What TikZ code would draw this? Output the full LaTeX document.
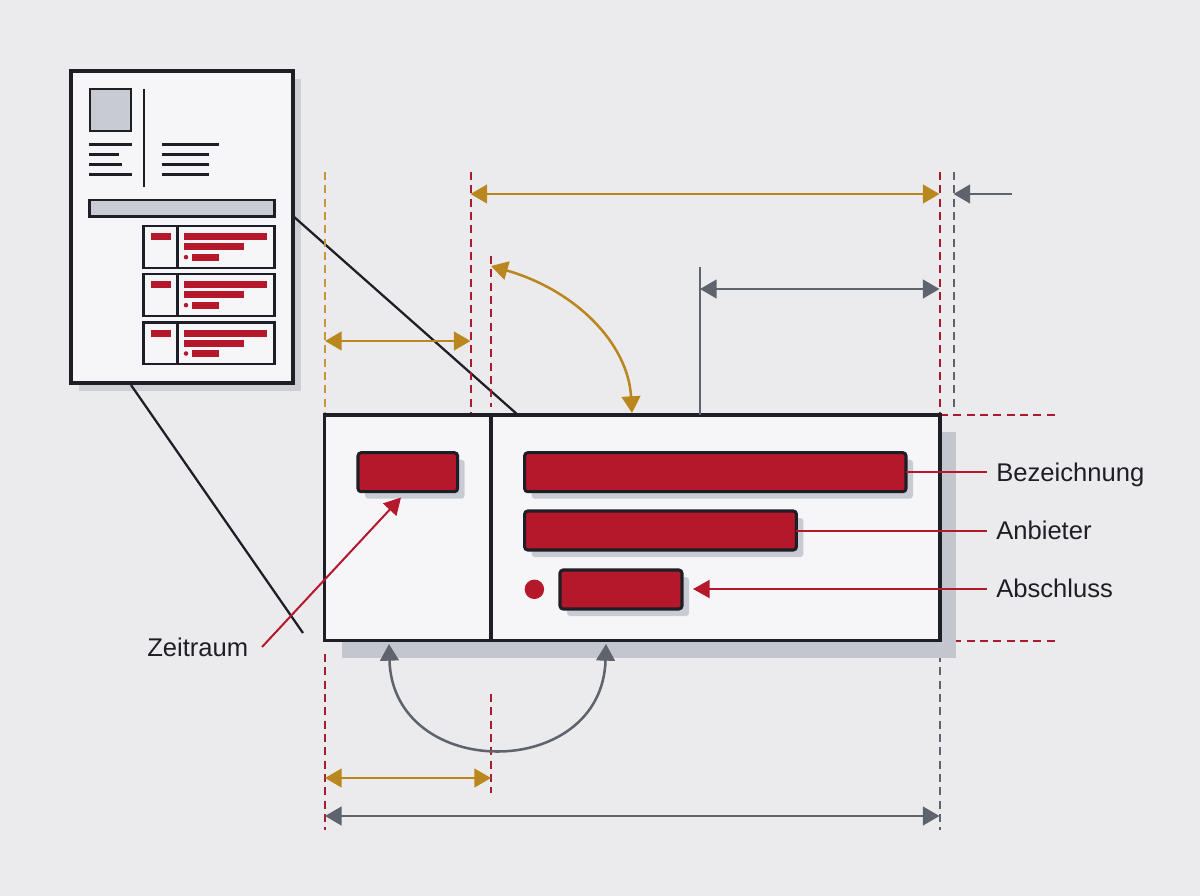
\documentclass[tikz,border=0pt]{standalone}
\usepackage{fontspec}
\setmainfont{Liberation Sans}
\usetikzlibrary{arrows.meta}
\definecolor{bg}{HTML}{EBEBED}
\definecolor{ink}{HTML}{1E1F26}
\definecolor{paper}{HTML}{F6F6F8}
\definecolor{shad}{HTML}{C4C6CD}
\definecolor{crim}{HTML}{B5172B}
\definecolor{gold}{HTML}{BA861E}
\definecolor{gry}{HTML}{5F636D}
\definecolor{reddash}{HTML}{A81C30}
\definecolor{golddash}{HTML}{C9963A}
\definecolor{greybox}{HTML}{C9CBD2}
\tikzset{
  frame/.style={draw=ink, line width=2.5pt},
  thinframe/.style={draw=ink, line width=1.9pt},
  bar/.style={fill=crim, draw=ink, line width=2.3pt, rounded corners=2.4pt},
  barshadow/.style={fill=greybox, rounded corners=2.4pt},
  minibar/.style={fill=crim},
  docline/.style={draw=ink, line width=2pt},
  rdash/.style={draw=reddash, line width=1.5pt, dash pattern=on 6pt off 4pt},
  gdash/.style={draw=golddash, line width=1.5pt, dash pattern=on 6pt off 4pt},
  ydash/.style={draw=gry, line width=1.5pt, dash pattern=on 6pt off 4pt},
  tipG/.tip={Triangle[length=12.5pt,width=14pt]},
  goldarr/.style={draw=gold, line width=1.9pt, tipG-tipG, gold},
  greyarr/.style={draw=gry, line width=1.9pt, tipG-tipG, gry},
  greyone/.style={draw=gry, line width=1.9pt, -tipG, gry},
  redarr/.style={draw=crim, line width=1.5pt, -{Triangle[length=12.5pt,width=13.5pt]}, crim},
  redline/.style={draw=crim, line width=1.5pt},
  conn/.style={draw=ink, line width=1.7pt},
  lbl/.style={anchor=base west, inner sep=0pt, text=ink, font=\fontsize{19.2pt}{23pt}\selectfont},
}
\begin{document}
\begin{tikzpicture}[x=0.75pt,y=-0.75pt]
\fill[bg] (0,0) rectangle (1200,896);
\useasboundingbox (0,0) rectangle (1200,896);

% ---------- thumbnail document ----------
\fill[shad!85] (79,79) rectangle (301,391);
\filldraw[fill=paper, frame] (71,71) rectangle (293,383);
\filldraw[fill=greybox, thinframe] (90,89) rectangle (131,131);
\draw[docline] (144,89) -- (144,187);
\draw[docline] (89,144.3) -- (131.7,144.3);
\draw[docline] (89,154.3) -- (119,154.3);
\draw[docline] (89,164.3) -- (122,164.3);
\draw[docline] (89,174.3) -- (131.7,174.3);
\draw[docline] (161.7,144.3) -- (219,144.3);
\draw[docline] (161.7,154.3) -- (209,154.3);
\draw[docline] (161.7,164.3) -- (209,164.3);
\draw[docline] (161.7,174.3) -- (209,174.3);
\filldraw[fill=greybox, thinframe] (89.3,200) rectangle (274.3,216.7);
\foreach \yy in {226,274,322.3}{
  \draw[thinframe] (143.5,\yy) rectangle (274.5,\yy+41.8);
  \draw[thinframe] (177.5,\yy) -- (177.5,\yy+41.8);
  \fill[minibar] (150.7,\yy+7.4) rectangle (170.7,\yy+14.2);
  \fill[minibar] (184,\yy+7.4) rectangle (266.7,\yy+14.2);
  \fill[minibar] (184,\yy+17.4) rectangle (244.3,\yy+24.2);
  \fill[crim] (186,\yy+31.2) circle (1.7pt);
  \fill[minibar] (192,\yy+27.8) rectangle (219,\yy+34.6);
}

% ---------- connectors from thumbnail ----------
\coordinate (thTR) at (293,216);
\coordinate (boxTop) at (518,415);
\coordinate (thBL) at (131,385);
\coordinate (zoomEnd) at (303,633);
\draw[conn] (thTR) -- (boxTop);
\draw[conn] (thBL) -- (zoomEnd);

% ---------- dashed guide lines ----------
\draw[gdash] (325,172) -- (325,415);
\draw[rdash] (470.5,172) -- (470.5,415);
\draw[rdash] (491,256) -- (491,407);
\draw[rdash] (939.5,172) -- (939.5,415);
\draw[ydash] (953.5,172) -- (953.5,407);
\draw[rdash] (940,415) -- (1058,415);
\draw[rdash] (940,640.5) -- (1058,640.5);
\draw[rdash] (325,654) -- (325,830);
\draw[rdash] (491,694) -- (491,793);
\draw[ydash] (939.5,654) -- (939.5,830);

% ---------- main card ----------
\fill[shad] (341.5,432) rectangle (956,658);
\filldraw[fill=paper, frame] (324.5,415) rectangle (940,640.5);
\draw[frame] (491,415) -- (491,640.5);

\fill[barshadow] (365,459.7) rectangle (464.6,498.7);
\filldraw[bar] (358,452.7) rectangle (457.6,491.7);
\fill[barshadow] (531.6,459.7) rectangle (913,498.7);
\filldraw[bar] (524.6,452.7) rectangle (906,491.7);
\fill[barshadow] (531.6,518) rectangle (803.4,557);
\filldraw[bar] (524.6,511) rectangle (796.4,550);
\fill[barshadow] (567,577) rectangle (689,616);
\filldraw[bar] (560,570) rectangle (682,609);
\fill[crim] (534.4,589.3) circle (7.3pt);

% ---------- labels ----------
\node[lbl] (lblBez) at (996,481) {Bezeichnung};
\node[lbl] (lblAnb) at (996,539.3) {Anbieter};
\node[lbl] (lblAbs) at (996,597.3) {Abschluss};
\node[lbl] (lblZeit) at (147,656) {Zeitraum};

\coordinate (bezR) at (906,472.3);
\coordinate (bezL) at (987,472.3);
\coordinate (anbR) at (796.4,530.7);
\coordinate (anbL) at (987,530.7);
\coordinate (absTip) at (693,589);
\coordinate (absL) at (987,589);
\coordinate (zeitS) at (262,647);
\coordinate (zeitTip) at (401,497.5);
\draw[redline] (bezR) -- (bezL);
\draw[redline] (anbR) -- (anbL);
\draw[redarr] (absL) -- (absTip);
\draw[redarr] (zeitS) -- (zeitTip);

% ---------- dimension arrows ----------
\coordinate (tA) at (470.5,194);
\coordinate (tB) at (939.5,194);
\draw[goldarr] (tA) -- (tB);
\coordinate (tC) at (1012,194);
\coordinate (tD) at (953.5,194);
\draw[greyone] (tC) -- (tD);

\coordinate (lA) at (325,341);
\coordinate (lB) at (470.5,341);
\draw[goldarr] (lA) -- (lB);

\coordinate (aS) at (491,266);
\coordinate (aE) at (632,413);
\draw[goldarr] (aS) .. controls (575,290) and (628,343) .. (aE);

\coordinate (vT) at (700,267);
\coordinate (vB) at (700,415);
\draw[draw=gry, line width=1.6pt] (vT) -- (vB);
\coordinate (rA) at (700,289);
\coordinate (rB) at (939.5,289);
\draw[greyarr] (rA) -- (rB);

\coordinate (bS) at (389,644);
\coordinate (bE) at (606,644);
\draw[greyarr] (bS) .. controls (393,782) and (602,782) .. (bE);

\coordinate (gA) at (325,778);
\coordinate (gB) at (491,778);
\draw[goldarr] (gA) -- (gB);

\coordinate (wA) at (325,816);
\coordinate (wB) at (939.5,816);
\draw[greyarr] (wA) -- (wB);
\end{tikzpicture}
\end{document}
